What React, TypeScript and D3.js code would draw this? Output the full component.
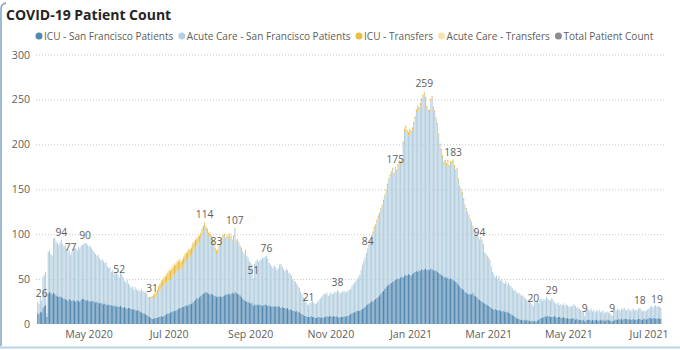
import React, { useEffect, useRef } from 'react'
import * as d3 from 'd3'

// daily census, first bar is 2020-03-23
const firstDay = '2020-03-23'

const icuSanFrancisco = [
  12, 11, 14, 13, 18, 20, 21,
  8, 34, 36, 35, 33, 35, 34,
  32, 31, 30, 31, 30, 29, 28,
  28, 27, 26, 28, 27, 26, 27,
  26, 25, 27, 26, 25, 27, 28,
  28, 27, 26, 27, 26, 25, 26,
  26, 25, 24, 25, 24, 23, 24,
  23, 22, 23, 22, 21, 22, 21,
  21, 20, 21, 20, 19, 20, 19,
  20, 19, 18, 19, 18, 17, 18,
  18, 17, 16, 17, 16, 15, 16,
  15, 14, 13, 12, 12, 11, 10,
  9, 8, 7, 6, 6, 7, 7,
  7, 8, 8, 9, 8, 9, 10,
  11, 12, 12, 13, 14, 14, 15,
  15, 16, 17, 18, 18, 19, 19,
  20, 21, 20, 22, 22, 23, 24,
  26, 27, 29, 28, 30, 31, 33,
  34, 35, 36, 35, 34, 33, 34,
  33, 32, 31, 30, 31, 30, 31,
  30, 31, 32, 33, 33, 34, 33,
  34, 35, 34, 36, 35, 34, 33,
  32, 30, 28, 27, 26, 25, 25,
  24, 23, 24, 20, 22, 21, 22,
  21, 22, 21, 20, 21, 22, 21,
  20, 21, 20, 19, 20, 19, 20,
  19, 20, 19, 18, 19, 18, 18,
  17, 18, 16, 17, 16, 15, 15,
  14, 15, 13, 14, 12, 11, 10,
  9, 9, 8, 8, 8, 9, 8,
  8, 7, 7, 8, 8, 7, 8,
  7, 8, 8, 9, 8, 9, 9,
  8, 9, 8, 9, 8, 7, 8,
  8, 8, 9, 8, 9, 9, 10,
  11, 12, 13, 13, 14, 15, 15,
  15, 16, 17, 18, 19, 21, 22,
  23, 24, 26, 25, 27, 28, 29,
  30, 32, 34, 36, 37, 39, 41,
  43, 44, 45, 46, 47, 48, 49,
  50, 51, 50, 52, 53, 52, 54,
  55, 54, 56, 55, 54, 56, 57,
  58, 59, 58, 60, 59, 61, 60,
  61, 62, 60, 61, 60, 62, 61,
  60, 59, 60, 58, 57, 56, 55,
  54, 52, 53, 51, 52, 50, 51,
  50, 49, 48, 47, 46, 44, 42,
  40, 39, 38, 36, 35, 34, 33,
  34, 33, 35, 32, 31, 30, 28,
  27, 26, 25, 24, 23, 22, 21,
  20, 19, 18, 17, 16, 17, 16,
  15, 16, 15, 14, 15, 14, 13,
  14, 13, 12, 11, 10, 9, 8,
  7, 6, 6, 5, 5, 4, 5,
  4, 5, 4, 4, 3, 4, 3,
  4, 3, 4, 5, 6, 7, 7,
  8, 9, 8, 9, 9, 8, 8,
  8, 9, 8, 7, 8, 8, 7,
  7, 8, 7, 6, 7, 6, 6,
  6, 7, 6, 5, 6, 5, 5,
  5, 4, 5, 3, 4, 5, 5,
  5, 4, 5, 4, 5, 5, 4,
  4, 5, 4, 5, 4, 4, 5,
  5, 4, 4, 3, 4, 5, 5,
  5, 6, 5, 6, 5, 6, 6,
  6, 5, 6, 5, 5, 6, 5,
  5, 5, 6, 6, 5, 5, 6,
  6, 5, 6, 7, 7, 6, 7,
  7, 6, 6, 7, 6, 6,
]

const acuteSanFrancisco = [
  13, 11, 16, 13, 34, 35, 37,
  4, 46, 46, 43, 43, 60, 62,
  60, 59, 58, 60, 64, 60, 58,
  60, 57, 54, 54, 50, 54, 56,
  58, 60, 55, 60, 59, 60, 60,
  61, 63, 64, 61, 60, 62, 58,
  56, 55, 54, 51, 53, 50, 47,
  49, 48, 45, 47, 43, 40, 42,
  37, 40, 36, 36, 39, 35, 33,
  37, 36, 34, 29, 28, 32, 27,
  25, 23, 26, 21, 25, 24, 21,
  23, 22, 26, 25, 23, 25, 24,
  21, 21, 21, 22, 23, 23, 24,
  26, 28, 30, 31, 34, 34, 35,
  35, 36, 38, 36, 38, 40, 40,
  42, 43, 43, 44, 43, 44, 47,
  48, 49, 52, 52, 53, 54, 56,
  57, 59, 59, 62, 62, 64, 67,
  70, 73, 67, 66, 64, 64, 61,
  57, 54, 51, 48, 49, 54, 57,
  62, 65, 66, 61, 64, 61, 66,
  62, 58, 63, 69, 57, 60, 57,
  54, 54, 52, 51, 56, 51, 49,
  46, 45, 42, 31, 45, 49, 50,
  48, 49, 51, 54, 52, 53, 55,
  53, 47, 46, 45, 42, 46, 43,
  41, 42, 47, 49, 45, 43, 41,
  44, 42, 41, 39, 38, 35, 33,
  33, 30, 29, 26, 24, 22, 20,
  19, 16, 14, 13, 15, 15, 18,
  16, 15, 16, 17, 19, 21, 22,
  25, 26, 25, 26, 23, 24, 26,
  25, 25, 28, 26, 30, 29, 26,
  27, 28, 28, 27, 27, 28, 28,
  28, 30, 31, 33, 34, 35, 37,
  40, 44, 49, 52, 55, 58, 61,
  65, 69, 71, 76, 78, 80, 84,
  88, 90, 93, 95, 99, 103, 107,
  111, 116, 120, 122, 125, 118, 124,
  120, 125, 130, 126, 129, 148, 160,
  163, 159, 154, 159, 158, 160, 165,
  170, 177, 182, 178, 184, 187, 192,
  194, 188, 180, 176, 175, 186, 191,
  180, 177, 168, 164, 153, 142, 137,
  131, 126, 128, 125, 128, 124, 127,
  128, 131, 127, 123, 126, 116, 110,
  108, 106, 100, 96, 93, 90, 87,
  82, 80, 73, 73, 71, 70, 69,
  66, 70, 67, 64, 57, 56, 54,
  53, 51, 46, 41, 39, 35, 38,
  35, 37, 33, 36, 31, 31, 35,
  30, 33, 31, 31, 30, 28, 30,
  29, 28, 29, 28, 26, 28, 25,
  24, 22, 21, 22, 21, 18, 17,
  20, 23, 21, 18, 21, 21, 19,
  20, 18, 22, 19, 18, 18, 21,
  19, 15, 15, 15, 16, 13, 15,
  14, 15, 13, 16, 14, 13, 14,
  13, 14, 16, 15, 12, 14, 12,
  11, 11, 9, 6, 11, 12, 11,
  10, 13, 9, 12, 8, 10, 10,
  12, 8, 10, 10, 8, 9, 9,
  8, 8, 7, 6, 10, 11, 10,
  12, 10, 10, 11, 11, 12, 10,
  9, 12, 10, 9, 11, 11, 10,
  11, 10, 11, 12, 11, 9, 9,
  8, 10, 10, 10, 12, 14, 11,
  13, 15, 13, 13, 13, 12,
]

// transfers only show up in two stretches
const summerTransfersFrom = '2020-06-15'
const summerIcuTransfers = [
  0, 1, 2, 3, 3, 4, 4,
  5, 6, 6, 7, 7, 8, 8,
  8, 9, 9, 10, 9, 10, 10,
  9, 10, 9, 9, 8, 8, 8,
  9, 9, 8, 9, 8, 8, 9,
  8, 8, 7, 7, 6, 6, 6,
  5, 5, 5, 5, 4, 4, 4,
  4, 4, 3, 4, 3, 3, 3,
  3, 3, 2, 2, 2, 2, 2,
  2, 1, 2, 2, 1, 1, 1,
  1, 1, 1, 0, 1, 0, 0,
]
const summerAcuteTransfers = [
  0, 0, 0, 0, 1, 1, 1,
  1, 1, 2, 2, 1, 2, 2,
  2, 2, 3, 2, 3, 3, 2,
  2, 2, 3, 2, 2, 2, 2,
  2, 1, 2, 2, 1, 2, 2,
  2, 2, 1, 2, 1, 1, 1,
  1, 1, 1, 1, 1, 1, 1,
  1, 1, 1, 1, 1, 1, 1,
  1, 1, 1, 0, 1, 1, 0,
  0, 1, 0, 0, 1,
]

const winterTransfersFrom = '2020-11-29'
const winterIcuTransfers = [
  1,
  1, 1, 2, 2, 3, 3, 3,
  3, 2, 2, 2, 2, 2, 2,
  2, 2, 2, 2, 2, 2, 2,
  2, 2, 2, 3, 3, 3, 3,
  3, 3, 4, 3, 3, 3, 3,
  3, 3, 3, 3, 3, 3, 3,
  3, 3, 3, 2, 3, 3, 2,
  2, 2, 2, 2, 2, 3, 3,
  3, 3, 2, 3, 3, 3, 3,
  3, 3, 2, 2, 2, 2, 2,
  2, 2, 2, 1, 1, 1, 1,
  1, 1, 1, 1, 1, 1, 1,
  1, 1, 1, 1, 0, 0, 1,
  1, 1, 0,
]
const winterAcuteTransfers = [
  0,
  0, 0, 0, 1, 1, 1, 1,
  1, 1, 0, 0, 1, 0, 0,
  0, 0, 0, 0, 0, 0, 0,
  0, 0, 0, 0, 0, 0, 0,
  0, 0, 0, 0, 0, 0, 0,
  0, 0, 0, 0, 0, 0, 0,
  1,
]

// days that carry a total label
const labelledDays = [
  '2020-03-26', '2020-04-10', '2020-04-17', '2020-04-28', '2020-05-24',
  '2020-06-18', '2020-07-28', '2020-08-06', '2020-08-20', '2020-09-03',
  '2020-09-13', '2020-10-15', '2020-11-06', '2020-11-29', '2020-12-20',
  '2021-01-11', '2021-02-02', '2021-02-22', '2021-04-04', '2021-04-18',
  '2021-05-13', '2021-06-03', '2021-06-24', '2021-07-07',
]

const yTicks = [0, 50, 100, 150, 200, 250, 300]

const seriesNames = [
  'ICU - San Francisco Patients',
  'Acute Care - San Francisco Patients',
  'ICU - Transfers',
  'Acute Care - Transfers',
  'Total Patient Count',
]
const seriesColors = ['#5389B1', '#B4CFDF', '#E9BD40', '#F6E4AE', '#8C8C8C']

const font = "'Segoe UI', 'Open Sans', sans-serif"

function App() {
  const ref = useRef<SVGSVGElement>(null)

  useEffect(() => {
    const width = 680
    const height = 350

    const parse = d3.utcParse('%Y-%m-%d')
    const start = parse(firstDay) as Date
    const offset = (s: string) => d3.utcDay.count(start, parse(s) as Date)
    const sOff = offset(summerTransfersFrom)
    const wOff = offset(winterTransfersFrom)

    const keys = ['icu', 'acute', 'icuT', 'acuteT']
    const rows = icuSanFrancisco.map((icu, i) => ({
      date: d3.utcDay.offset(start, i),
      icu,
      acute: acuteSanFrancisco[i],
      icuT: (summerIcuTransfers[i - sOff] ?? 0) + (winterIcuTransfers[i - wOff] ?? 0),
      acuteT: (summerAcuteTransfers[i - sOff] ?? 0) + (winterAcuteTransfers[i - wOff] ?? 0),
    }))

    const x = d3.scaleUtc()
      .domain([new Date(Date.UTC(2020, 2, 22)), new Date(Date.UTC(2021, 6, 11))])
      .range([36.4, 662.2])
    const y = d3.scaleLinear().domain([0, 300]).range([324, 54.5])

    const svg = d3.select(ref.current)
    svg.selectAll('*').remove()
    svg.attr('viewBox', `0 0 ${width} ${height}`).style('font-family', font)

    svg.append('rect').attr('width', width).attr('height', height).attr('fill', '#fff')

    // card border
    svg.append('path')
      .attr('d', 'M1,346 L1,9 Q1,4 6,3')
      .attr('fill', 'none')
      .attr('stroke', '#7FA5C2')
      .attr('stroke-width', 1.5)
    svg.append('line')
      .attr('x1', 0).attr('x2', width).attr('y1', 347.5).attr('y2', 347.5)
      .attr('stroke', '#B7D4E5').attr('stroke-width', 2)

    svg.append('text')
      .attr('x', 6).attr('y', 20)
      .attr('font-size', 14).attr('font-weight', 'bold')
      .attr('fill', '#252423')
      .text('COVID-19 Patient Count')

    // legend
    let lx = 35.5
    seriesNames.forEach((name, i) => {
      svg.append('circle').attr('cx', lx + 3.5).attr('cy', 36).attr('r', 3.5).attr('fill', seriesColors[i])
      const t = svg.append('text')
        .attr('x', lx + 8.5).attr('y', 39.5)
        .attr('font-size', 10.05).attr('fill', '#605E5C')
        .text(name)
      const w = (t.node() as SVGTextElement).getComputedTextLength()
      lx += 8.5 + w + 5
    })

    // grid + y labels
    svg.append('g').selectAll('line')
      .data(yTicks.filter(v => v > 0))
      .join('line')
      .attr('x1', 36).attr('x2', 664)
      .attr('y1', d => y(d) + 0.5).attr('y2', d => y(d) + 0.5)
      .attr('stroke', '#C8C8C8')
      .attr('stroke-dasharray', '1,2')
    svg.append('g').selectAll('text')
      .data(yTicks)
      .join('text')
      .attr('x', 30).attr('y', d => y(d) + 4)
      .attr('text-anchor', 'end')
      .attr('font-size', 10.6).attr('fill', '#605E5C')
      .text(d => d)

    // x labels
    const months = x.ticks(d3.utcMonth.every(2) as d3.TimeInterval)
    svg.append('g').selectAll('text')
      .data(months)
      .join('text')
      .attr('x', d => x(d)).attr('y', 338)
      .attr('text-anchor', 'middle')
      .attr('font-size', 10.6).attr('fill', '#605E5C')
      .text(d => d3.utcFormat('%b %Y')(d))

    // stacked daily bars
    const series = d3.stack<any>().keys(keys)(rows)
    const bw = (x(d3.utcDay.offset(start, 1)) - x(start)) * 0.8
    svg.append('g').selectAll('g')
      .data(series)
      .join('g')
      .attr('fill', (_, i) => seriesColors[i])
      .selectAll('rect')
      .data(d => d.filter(p => p[1] > p[0]))
      .join('rect')
      .attr('x', p => x(p.data.date) - bw / 2)
      .attr('y', p => y(p[1]))
      .attr('width', bw)
      .attr('height', p => y(p[0]) - y(p[1]))

    // total labels
    svg.append('g').selectAll('text')
      .data(labelledDays.map(s => rows[offset(s)]))
      .join('text')
      .attr('x', r => x(r.date))
      .attr('y', r => y(r.icu + r.acute + r.icuT + r.acuteT) - 4)
      .attr('text-anchor', 'middle')
      .attr('font-size', 10.3).attr('fill', '#605E5C')
      .text(r => r.icu + r.acute + r.icuT + r.acuteT)
  }, [])

  return (
    <svg
      ref={ref}
      width={680}
      height={350}
      style={{ position: 'absolute', left: 0, top: 0, display: 'block' }}
    />
  )
}

export default App
